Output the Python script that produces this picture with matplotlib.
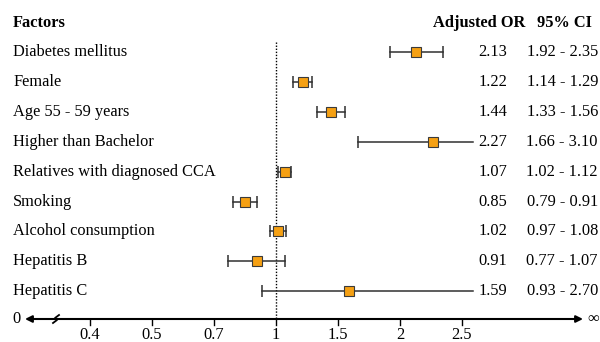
import numpy as np
import matplotlib.pyplot as plt

factors = ["Diabetes mellitus", "Female", "Age 55 - 59 years", "Higher than Bachelor",
           "Relatives with diagnosed CCA", "Smoking", "Alcohol consumption",
           "Hepatitis B", "Hepatitis C"]
odds = [2.13, 1.22, 1.44, 2.27, 1.07, 0.85, 1.02, 0.91, 1.59]
ci_low = [1.92, 1.14, 1.33, 1.66, 1.02, 0.79, 0.97, 0.77, 0.93]
ci_high = [2.35, 1.29, 1.56, 3.10, 1.12, 0.91, 1.08, 1.07, 2.70]
tick_vals = [0.4, 0.5, 0.7, 1, 1.5, 2, 2.5]
tick_labels = ["0.4", "0.5", "0.7", "1", "1.5", "2", "2.5"]

# broken axis: ticks equally spaced, linear between them
tv = np.array(tick_vals, float)
tp = np.arange(len(tv), dtype=float)


def fwd(v):
    v = np.asarray(v, float)
    d = np.interp(v, tv, tp)
    d = np.where(v < tv[0], (v - tv[0]) / (tv[1] - tv[0]), d)
    d = np.where(v > tv[-1], tp[-1] + (v - tv[-1]) / (tv[-1] - tv[-2]), d)
    return d


def inv(d):
    d = np.asarray(d, float)
    v = np.interp(d, tp, tv)
    v = np.where(d < 0, tv[0] + d * (tv[1] - tv[0]), v)
    v = np.where(d > tp[-1], tv[-1] + (d - tp[-1]) * (tv[-1] - tv[-2]), v)
    return v


plt.rcParams['font.family'] = ['Liberation Serif', 'DejaVu Serif']
fig = plt.figure(figsize=(6, 3.42), dpi=100)
ax = fig.add_axes([0, 0, 1, 1])
ax.set_xscale('function', functions=(fwd, inv))
# 62 px per tick step, tick 0.4 at x=90
ax.set_xlim(float(inv(-90 / 62)), float(inv(6 + 138 / 62)))
ax.set_ylim(342, 0)
ax.axis('off')

fs = 11.8
y_axis = 319
rows = 52 + 29.9 * np.arange(len(factors))
clip = float(inv(6 + 11 / 62))
ax_x = lambda px: float(inv((px - 90) / 62))

ax.text(ax_x(13), 23, "Factors", fontsize=fs, fontweight='bold', va='center')
ax.text(ax_x(433), 23, "Adjusted OR", fontsize=fs, fontweight='bold', va='center')
ax.text(ax_x(537), 23, "95% CI", fontsize=fs, fontweight='bold', va='center')

ax.plot([1, 1], [42, y_axis], ls=(0, (1, 1.2)), color='black', lw=1)

for y, name, o, lo, hi in zip(rows, factors, odds, ci_low, ci_high):
    ax.text(ax_x(13), y, name, fontsize=fs, va='center')
    ax.text(ax_x(507), y, f"{o:.2f}", fontsize=fs, va='center', ha='right')
    ax.text(ax_x(598), y, f"{lo:.2f} - {hi:.2f}", fontsize=fs, va='center', ha='right')
    right = min(hi, clip)
    ax.plot([lo, right], [y, y], color='#303030', lw=1.1)
    ax.plot(lo, y, marker='|', ms=8, mew=1.1, color='#303030')
    if hi <= clip:
        ax.plot(hi, y, marker='|', ms=8, mew=1.1, color='#303030')
    ax.plot(o, y, marker='s', ms=7.5, mfc='#F5A013', mec='#3a3a3a', mew=0.8)

# x axis with arrows to 0 and infinity
ax.annotate("", xy=(ax_x(25), y_axis), xytext=(ax_x(583), y_axis),
            arrowprops=dict(arrowstyle='<|-|>', color='black', lw=1.5,
                            mutation_scale=10, shrinkA=0, shrinkB=0))
ax.plot([ax_x(53), ax_x(57), ax_x(55), ax_x(59)], [y_axis + 4, y_axis + 1, y_axis - 1, y_axis - 4],
        color='black', lw=1.3)
ax.text(ax_x(17), y_axis, "0", fontsize=fs, va='center', ha='center')
ax.text(ax_x(593), y_axis, "\u221e", fontsize=fs, va='center', ha='center')
for v, lab in zip(tick_vals, tick_labels):
    ax.plot([v, v], [y_axis, y_axis + 6], color='black', lw=1)
    ax.text(v, 335, lab, fontsize=fs, va='center', ha='center')

fig.savefig("out.png", dpi=100)
